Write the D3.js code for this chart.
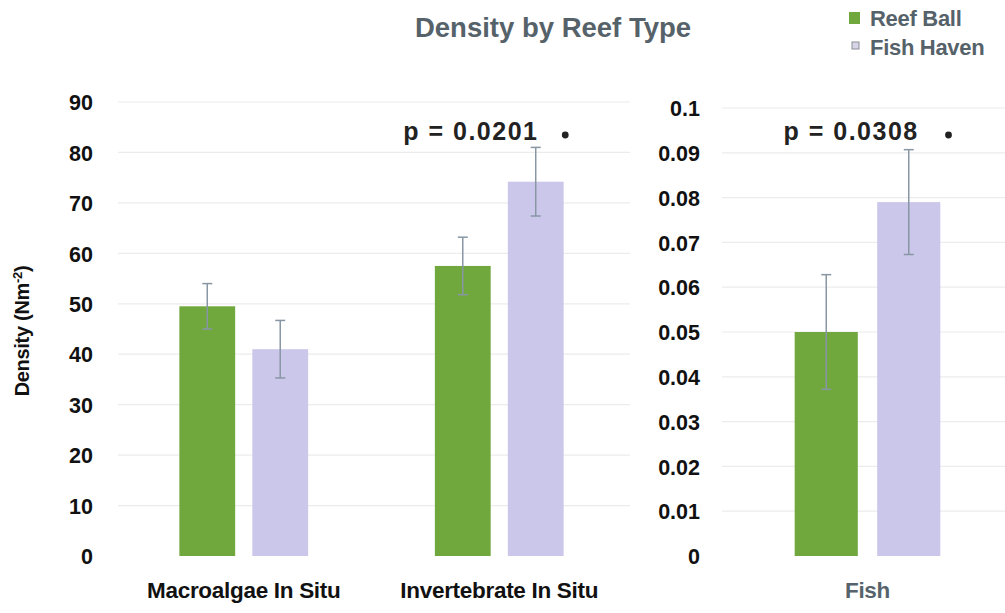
<!DOCTYPE html>
<html>
<head>
<meta charset="utf-8">
<script src="https://cdn.jsdelivr.net/npm/d3@7"></script>
<style>
  body { margin: 0; background: #fff; }
  svg text { font-family: "Liberation Sans", Arial, sans-serif; }
</style>
</head>
<body>
<div id="chart"></div>
<script>
// data
const series = ["Reef Ball", "Fish Haven"];
const insituCats = ["Macroalgae In Situ", "Invertebrate In Situ"];
const insituReefBall = [49.5, 57.5];
const insituReefBallErr = [4.5, 5.7];
const insituFishHaven = [41, 74.2];
const insituFishHavenErr = [5.7, 6.8];
const fishCats = ["Fish"];
const fishReefBall = [0.050];
const fishReefBallErr = [0.0128];
const fishFishHaven = [0.079];
const fishFishHavenErr = [0.0117];
const leftTicks = [0, 10, 20, 30, 40, 50, 60, 70, 80, 90];
const rightTicks = [0, 0.01, 0.02, 0.03, 0.04, 0.05, 0.06, 0.07, 0.08, 0.09, 0.1];
const pLabels = [
  { panel: "left", cat: "Invertebrate In Situ", text: "p = 0.0201" },
  { panel: "right", cat: "Fish", text: "p = 0.0308" }
];

// label placement relative to the group centre (px)
const pShift = { left: -96, right: -84 };
const pDot = { left: 66, right: 81 };

const width = 1005, height = 613;
const colors = { "Reef Ball": "#70a83d", "Fish Haven": "#cac7ea" };

const svg = d3.select("#chart").append("svg")
  .attr("width", width)
  .attr("height", height);

function toRows(cats, a, aErr, b, bErr) {
  return cats.map((c, i) => ({
    cat: c,
    vals: [
      { s: series[0], v: a[i], e: aErr[i] },
      { s: series[1], v: b[i], e: bErr[i] }
    ]
  }));
}

function panel(opts) {
  const y = d3.scaleLinear().domain(opts.domain).range([opts.y0, opts.y1]);
  const x0 = d3.scaleBand().domain(opts.cats).range(opts.xRange);
  const bw = x0.bandwidth();
  const x1 = d3.scaleBand().domain(series)
    .range([bw * 0.248, bw * 0.752])
    .paddingInner(0.235);

  const g = svg.append("g");

  // gridlines
  g.append("g")
    .selectAll("line")
    .data(opts.ticks.slice(1))
    .join("line")
    .attr("x1", opts.gridX[0])
    .attr("x2", opts.gridX[1])
    .attr("y1", d => y(d))
    .attr("y2", d => y(d))
    .attr("stroke", "#ececec")
    .attr("stroke-width", 1.2);

  // tick labels
  const axis = d3.axisLeft(y).tickValues(opts.ticks).tickSize(0).tickPadding(0)
    .tickFormat(opts.fmt);
  const ax = g.append("g")
    .attr("transform", `translate(${opts.labelX},0)`)
    .call(axis);
  ax.select(".domain").remove();
  ax.selectAll("text")
    .attr("font-family", "Liberation Sans, Arial, sans-serif")
    .attr("font-size", 21.5)
    .attr("font-weight", "bold")
    .attr("fill", "#111")
    .attr("dy", "0.36em");

  const rows = toRows(opts.cats, opts.a, opts.aErr, opts.b, opts.bErr);
  const grp = g.selectAll("g.grp")
    .data(rows)
    .join("g")
    .attr("class", "grp")
    .attr("transform", d => `translate(${x0(d.cat)},0)`);

  grp.selectAll("rect")
    .data(d => d.vals)
    .join("rect")
    .attr("x", d => x1(d.s))
    .attr("width", x1.bandwidth())
    .attr("y", d => y(d.v))
    .attr("height", d => y(0) - y(d.v))
    .attr("fill", d => colors[d.s]);

  const err = grp.selectAll("g.err")
    .data(d => d.vals)
    .join("g")
    .attr("class", "err")
    .attr("stroke", "#8896a4")
    .attr("stroke-width", 1.5);
  err.append("line")
    .attr("x1", d => x1(d.s) + x1.bandwidth() / 2)
    .attr("x2", d => x1(d.s) + x1.bandwidth() / 2)
    .attr("y1", d => y(d.v + d.e))
    .attr("y2", d => y(d.v - d.e));
  err.append("line")
    .attr("x1", d => x1(d.s) + x1.bandwidth() / 2 - 5)
    .attr("x2", d => x1(d.s) + x1.bandwidth() / 2 + 5)
    .attr("y1", d => y(d.v + d.e))
    .attr("y2", d => y(d.v + d.e));
  err.append("line")
    .attr("x1", d => x1(d.s) + x1.bandwidth() / 2 - 5)
    .attr("x2", d => x1(d.s) + x1.bandwidth() / 2 + 5)
    .attr("y1", d => y(d.v - d.e))
    .attr("y2", d => y(d.v - d.e));

  // category labels
  g.selectAll("text.cat")
    .data(opts.cats)
    .join("text")
    .attr("class", "cat")
    .attr("x", d => x0(d) + bw / 2)
    .attr("y", 598)
    .attr("text-anchor", "middle")
    .attr("font-size", 22.5)
    .attr("font-weight", "bold")
    .attr("fill", opts.catColor)
    .attr("letter-spacing", -0.3)
    .text(d => d);

  return { x0, x1, y, bw };
}

const left = panel({
  domain: [0, 90], y0: 556, y1: 102,
  cats: insituCats, xRange: [116, 627], gridX: [118, 630],
  ticks: leftTicks, labelX: 93, fmt: d3.format("d"),
  a: insituReefBall, aErr: insituReefBallErr,
  b: insituFishHaven, bErr: insituFishHavenErr,
  catColor: "#111"
});

const right = panel({
  domain: [0, 0.1], y0: 556, y1: 108,
  cats: fishCats, xRange: [723, 1012], gridX: [722, 1005],
  ticks: rightTicks, labelX: 700, fmt: d => d === 0 ? "0" : d3.format("")(+d.toFixed(2)),
  a: fishReefBall, aErr: fishReefBallErr,
  b: fishFishHaven, bErr: fishFishHavenErr,
  catColor: "#56636b"
});

// p-value annotations
const panels = { left, right };
const pg = svg.selectAll("g.pval")
  .data(pLabels)
  .join("g")
  .attr("class", "pval")
  .attr("transform", d => {
    const p = panels[d.panel];
    return `translate(${p.x0(d.cat) + p.bw / 2},0)`;
  });
pg.append("text")
  .attr("x", d => pShift[d.panel])
  .attr("y", 140)
  .attr("font-family", "Open Sans, sans-serif")
  .attr("font-size", 25)
  .attr("font-weight", 600)
  .attr("letter-spacing", 1.5)
  .attr("fill", "#222")
  .attr("xml:space", "preserve")
  .text(d => d.text);
pg.append("circle")
  .attr("cx", d => pDot[d.panel])
  .attr("cy", 135)
  .attr("r", 3.4)
  .attr("fill", "#222");

// title
svg.append("text")
  .attr("x", 553)
  .attr("y", 37)
  .attr("text-anchor", "middle")
  .attr("font-size", 27.5)
  .attr("font-weight", "bold")
  .attr("fill", "#56626a")
  .text("Density by Reef Type");

// legend
const legend = svg.append("g").attr("transform", "translate(849,0)");
legend.append("rect")
  .attr("x", 0).attr("y", 12).attr("width", 11).attr("height", 12)
  .attr("fill", colors["Reef Ball"]);
legend.append("rect")
  .attr("x", 3).attr("y", 42).attr("width", 7).attr("height", 7)
  .attr("fill", "#d6d4e6").attr("stroke", "#8a8f96").attr("stroke-width", 1);
legend.selectAll("text.leg")
  .data(series)
  .join("text")
  .attr("class", "leg")
  .attr("x", 21)
  .attr("y", (d, i) => 26 + i * 29)
  .attr("font-size", 22)
  .attr("font-weight", "bold")
  .attr("fill", "#56626a")
  .attr("letter-spacing", -0.3)
  .text(d => d);

// y-axis title
svg.append("text")
  .attr("transform", "translate(29,331) rotate(-90)")
  .attr("text-anchor", "middle")
  .attr("font-size", 20)
  .attr("font-weight", "bold")
  .attr("fill", "#111")
  .attr("letter-spacing", -0.3)
  .text("Density (Nm")
  .append("tspan")
  .attr("baseline-shift", "super")
  .attr("font-size", 13)
  .text("-2")
  .select(function() { return this.parentNode; })
  .append("tspan")
  .text(")");
</script>
</body>
</html>
